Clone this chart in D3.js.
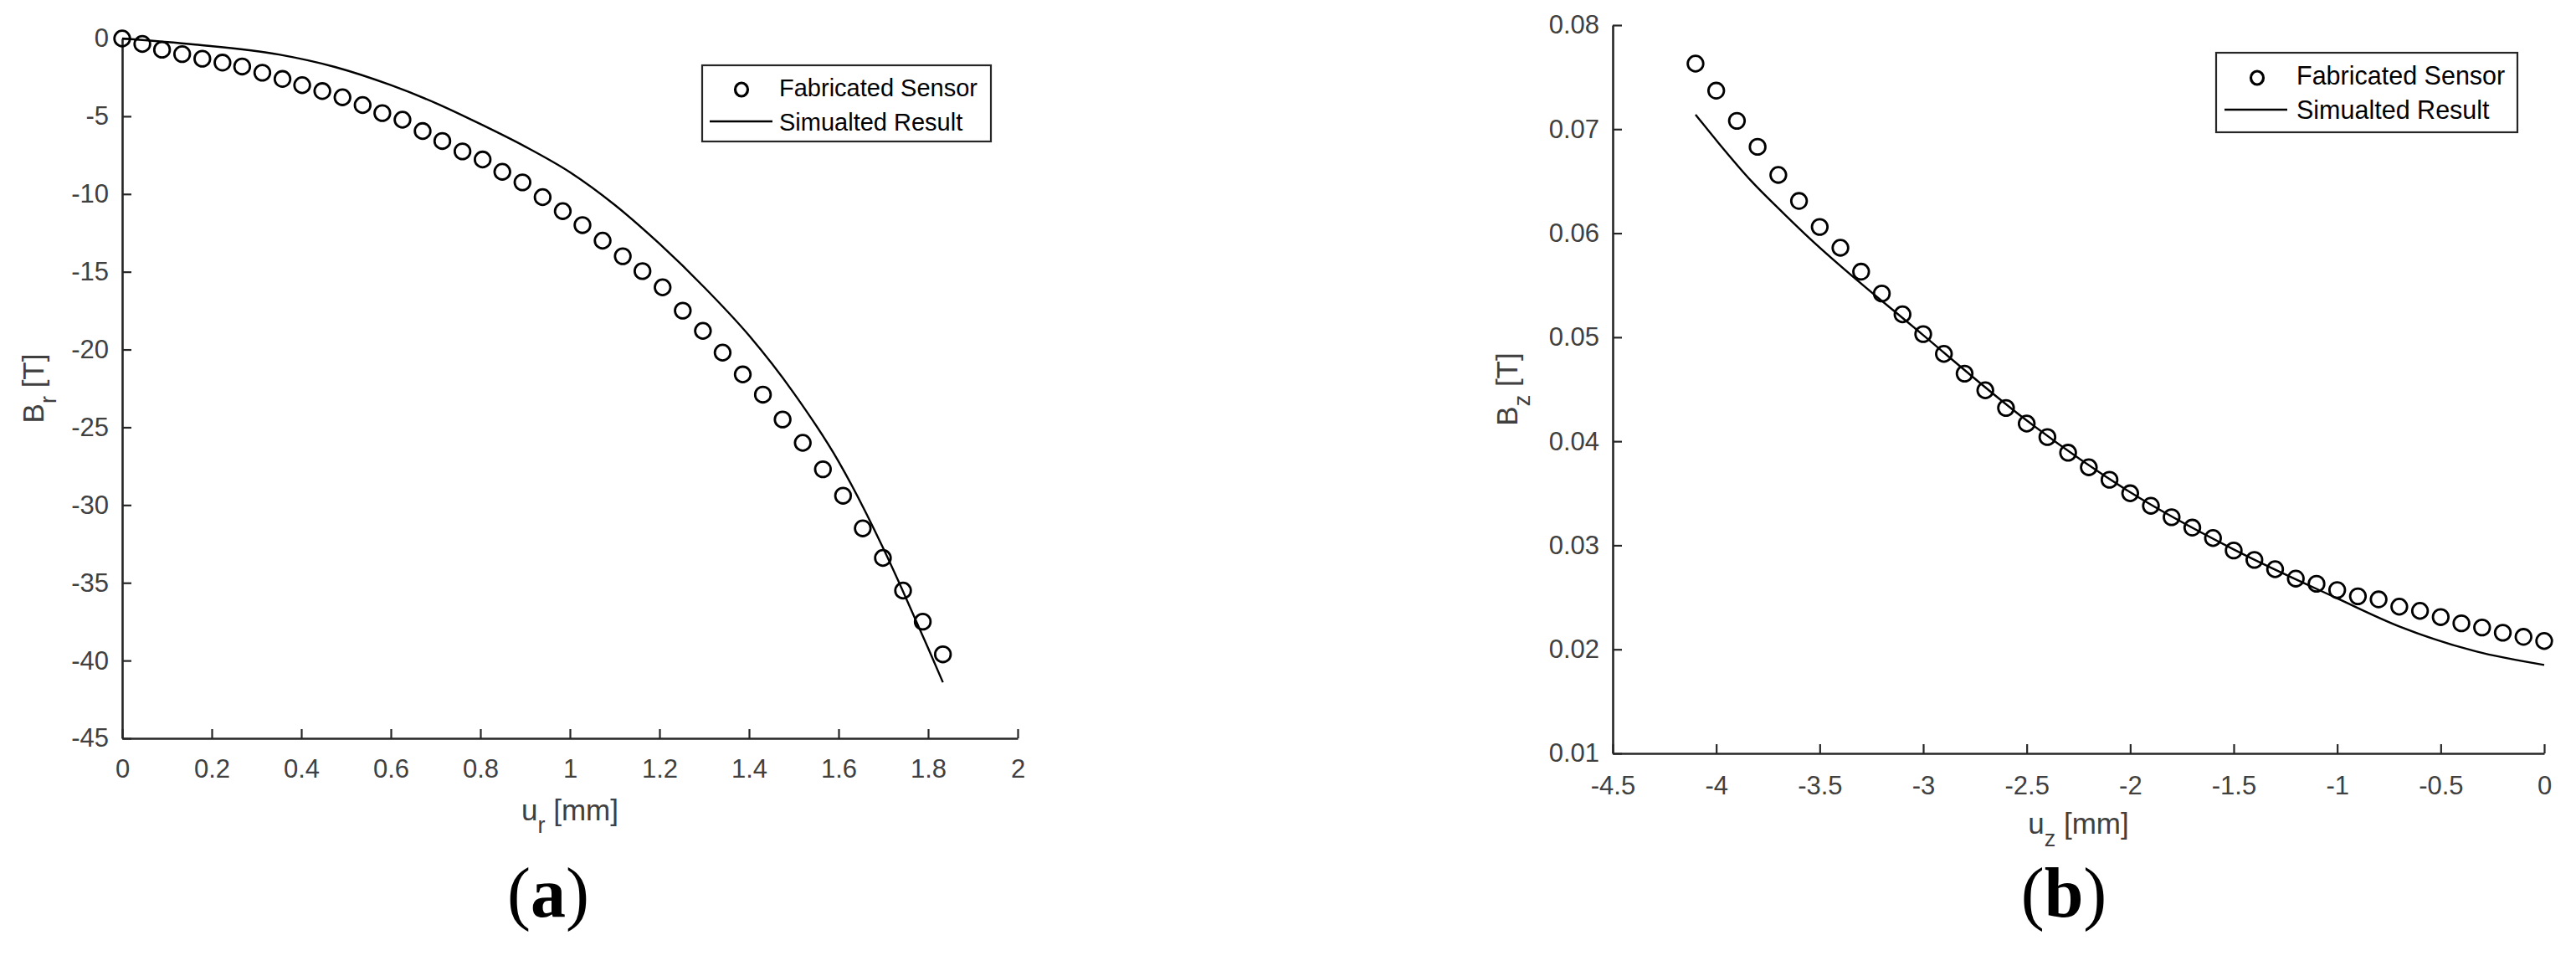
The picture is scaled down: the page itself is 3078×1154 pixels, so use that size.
<!DOCTYPE html>
<html>
<head>
<meta charset="utf-8">
<script src="https://cdn.jsdelivr.net/npm/d3@7"></script>
<style>
  body { margin: 0; background: #fff; }
  svg { display: block; }
</style>
</head>
<body>
<svg id="chart" width="3078" height="1154"></svg>
<script>
// panel (a) - radial field vs radial displacement
var fabA_x = [0, 0.045, 0.089, 0.134, 0.179, 0.224, 0.268, 0.313, 0.358, 0.402, 0.447, 0.492, 0.537, 0.581,
              0.626, 0.671, 0.715, 0.760, 0.805, 0.849, 0.894, 0.939, 0.984, 1.028, 1.073, 1.118, 1.162, 1.207,
              1.252, 1.297, 1.341, 1.386, 1.431, 1.475, 1.520, 1.565, 1.610, 1.654, 1.699, 1.744, 1.788, 1.833];
var fabA_y = [0, -0.35, -0.72, -1.0, -1.3, -1.55, -1.8, -2.2, -2.6, -3.0, -3.38, -3.78, -4.28, -4.8,
              -5.22, -5.95, -6.59, -7.26, -7.78, -8.57, -9.25, -10.2, -11.1, -12.0, -13.0, -14.0, -14.96, -16.0,
              -17.5, -18.8, -20.2, -21.6, -22.9, -24.5, -26.0, -27.7, -29.4, -31.5, -33.4, -35.5, -37.5, -39.6];
var simA_x = [0, 0.163, 0.35, 0.475, 0.6, 0.7, 0.8, 0.9, 1.0, 1.1, 1.2, 1.3, 1.4, 1.5, 1.6, 1.7, 1.74, 1.8, 1.833];
var simA_y = [0, -0.39, -1.03, -1.83, -3.0, -4.15, -5.5, -6.95, -8.6, -10.7, -13.2, -16.0, -19.1, -22.8, -27.2, -32.8, -35.3, -39.2, -41.4];
var ticksA_x = [0, 0.2, 0.4, 0.6, 0.8, 1, 1.2, 1.4, 1.6, 1.8, 2];
var ticksA_y = [0, -5, -10, -15, -20, -25, -30, -35, -40, -45];

// panel (b) - axial field vs axial displacement
var fabB_x = [-4.1, -4.0, -3.9, -3.8, -3.7, -3.6, -3.5, -3.4, -3.3, -3.2, -3.1, -3.0, -2.9, -2.8,
              -2.7, -2.6, -2.5, -2.4, -2.3, -2.2, -2.1, -2.0, -1.9, -1.8, -1.7, -1.6, -1.5, -1.4,
              -1.3, -1.2, -1.1, -1.0, -0.9, -0.8, -0.7, -0.6, -0.5, -0.4, -0.3, -0.2, -0.1, 0];
var fabB_y = [0.0763, 0.0737, 0.0708, 0.0683, 0.0656, 0.0631, 0.0606, 0.0586, 0.0563, 0.0542, 0.0522, 0.0503, 0.0484, 0.0465,
              0.0449, 0.0432, 0.0417, 0.0404, 0.0389, 0.0375, 0.0363, 0.0350, 0.0338, 0.0327, 0.0317, 0.0307, 0.0295, 0.0286,
              0.0277, 0.0268, 0.0263, 0.0257, 0.0251, 0.0248, 0.0241, 0.0237, 0.0231, 0.0225, 0.0221, 0.0216, 0.0212, 0.0208];
var simB_x = [-4.1, -3.99, -3.83, -3.69, -3.57, -3.0, -2.5, -2.0, -1.5, -1.0, -0.7, -0.33, 0];
var simB_y = [0.0714, 0.0687, 0.0650, 0.0622, 0.0599, 0.0502, 0.0420, 0.0351, 0.0296, 0.0249, 0.0222, 0.0198, 0.0185];
var ticksB_x = [-4.5, -4, -3.5, -3, -2.5, -2, -1.5, -1, -0.5, 0];
var ticksB_y = [0.01, 0.02, 0.03, 0.04, 0.05, 0.06, 0.07, 0.08];

var legendNames = ["Fabricated Sensor", "Simualted Result"];

var svg = d3.select("#chart");
var axisColor = "#262626";
var textColor = "#404040";
var sansFont = "'Liberation Sans', Arial, Helvetica, sans-serif";

// zip two arrays into point objects
function zip(xs, ys) {
  return xs.map(function(x, i) { return { x: x, y: ys[i] }; });
}

function drawPanel(p) {
  var g = svg.append("g");
  var x = d3.scaleLinear().domain(p.xDomain).range([p.left, p.right]);
  var y = d3.scaleLinear().domain(p.yDomain).range([p.bottom, p.top]);

  // axes - ticks point inward, no box
  var xAxis = g.append("g")
     .attr("transform", "translate(0," + p.bottom + ")")
     .call(d3.axisBottom(x).tickValues(p.xTicks).tickSize(-11).tickSizeOuter(0)
             .tickPadding(p.xPad).tickFormat(function(d) { return String(d); }));
  var yAxis = g.append("g")
     .attr("transform", "translate(" + p.left + ",0)")
     .call(d3.axisLeft(y).tickValues(p.yTicks).tickSize(-11).tickSizeOuter(0)
             .tickPadding(16).tickFormat(p.yFormat));

  [xAxis, yAxis].forEach(function(a) {
    a.select(".domain").attr("stroke", axisColor).attr("stroke-width", 2.6);
    a.selectAll(".tick line").attr("stroke", axisColor).attr("stroke-width", 2.2);
    a.selectAll(".tick text").attr("fill", textColor)
     .style("font-family", sansFont).style("font-size", "31px");
  });

  // simulated curve
  var line = d3.line()
    .x(function(d) { return x(d.x); })
    .y(function(d) { return y(d.y); })
    .curve(d3.curveMonotoneX);
  g.append("path")
   .datum(zip(p.simX, p.simY))
   .attr("d", line)
   .attr("fill", "none")
   .attr("stroke", "#000")
   .attr("stroke-width", 2.4);

  // measured points
  g.selectAll("circle.fab")
   .data(zip(p.fabX, p.fabY))
   .enter()
   .append("circle")
   .attr("class", "fab")
   .attr("cx", function(d) { return x(d.x); })
   .attr("cy", function(d) { return y(d.y); })
   .attr("r", 9.3)
   .attr("fill", "none")
   .attr("stroke", "#000")
   .attr("stroke-width", 2.8);

  // axis labels
  var xl = g.append("text")
     .attr("x", (p.left + p.right) / 2)
     .attr("y", p.xLabelY)
     .attr("text-anchor", "middle")
     .attr("fill", textColor)
     .style("font-family", sansFont).style("font-size", "35px");
  xl.append("tspan").text("u");
  xl.append("tspan").attr("dy", 15).style("font-size", "27px").text(p.sub);
  xl.append("tspan").attr("dy", -15).text(" [mm]");

  var yl = g.append("text")
     .attr("transform", "translate(" + p.yLabelX + "," + ((p.top + p.bottom) / 2) + ") rotate(-90)")
     .attr("text-anchor", "middle")
     .attr("fill", textColor)
     .style("font-family", sansFont).style("font-size", "35px");
  yl.append("tspan").text("B");
  yl.append("tspan").attr("dy", 15).style("font-size", "27px").text(p.sub);
  yl.append("tspan").attr("dy", -15).text(" [T]");

  // legend
  var L = p.legend;
  g.append("rect")
   .attr("x", L.x0).attr("y", L.y0)
   .attr("width", L.x1 - L.x0).attr("height", L.y1 - L.y0)
   .attr("fill", "#fff").attr("stroke", axisColor).attr("stroke-width", 2.2);
  g.append("ellipse")
   .attr("cx", L.markX).attr("cy", L.row1 - 8)
   .attr("rx", 7.5).attr("ry", 8)
   .attr("fill", "none").attr("stroke", "#000").attr("stroke-width", 3.2);
  g.append("line")
   .attr("x1", L.lineX0).attr("x2", L.lineX1)
   .attr("y1", L.row2 - 11).attr("y2", L.row2 - 11)
   .attr("stroke", "#000").attr("stroke-width", 2.4);
  g.selectAll("text.leg")
   .data(legendNames)
   .enter()
   .append("text")
   .attr("class", "leg")
   .attr("x", L.textX)
   .attr("y", function(d, i) { return i === 0 ? L.row1 : L.row2; })
   .attr("fill", "#000")
   .style("font-family", sansFont).style("font-size", L.font + "px")
   .text(function(d) { return d; });

  // panel letter
  var cap = g.append("text")
     .attr("x", p.capX).attr("y", 1095)
     .attr("text-anchor", "middle")
     .attr("fill", "#000")
     .style("font-family", "'Liberation Serif', 'Times New Roman', serif")
     .style("font-size", "84px");
  cap.append("tspan").text("(");
  cap.append("tspan").style("font-weight", "bold").text(p.letter);
  cap.append("tspan").text(")");
}

drawPanel({
  xDomain: [0, 2], yDomain: [-45, 0],
  left: 146, right: 1216, top: 46, bottom: 882,
  xTicks: ticksA_x, yTicks: ticksA_y, xPad: 25,
  yFormat: function(d) { return String(d); },
  fabX: fabA_x, fabY: fabA_y, simX: simA_x, simY: simA_y,
  sub: "r", xLabelY: 980, yLabelX: 52,
  legend: { x0: 839, y0: 78, x1: 1184, y1: 169, markX: 886, lineX0: 848, lineX1: 923,
            textX: 931, row1: 115, row2: 156, font: 29 },
  capX: 655, letter: "a"
});

drawPanel({
  xDomain: [-4.5, 0], yDomain: [0.01, 0.08],
  left: 1927, right: 3040, top: 30, bottom: 900,
  xTicks: ticksB_x, yTicks: ticksB_y, xPad: 27,
  yFormat: d3.format(".2f"),
  fabX: fabB_x, fabY: fabB_y, simX: simB_x, simY: simB_y,
  sub: "z", xLabelY: 996, yLabelX: 1813,
  legend: { x0: 2648, y0: 63, x1: 3008, y1: 158, markX: 2697, lineX0: 2658, lineX1: 2733,
            textX: 2744, row1: 101, row2: 142, font: 30.5 },
  capX: 2466, letter: "b"
});
</script>
</body>
</html>
